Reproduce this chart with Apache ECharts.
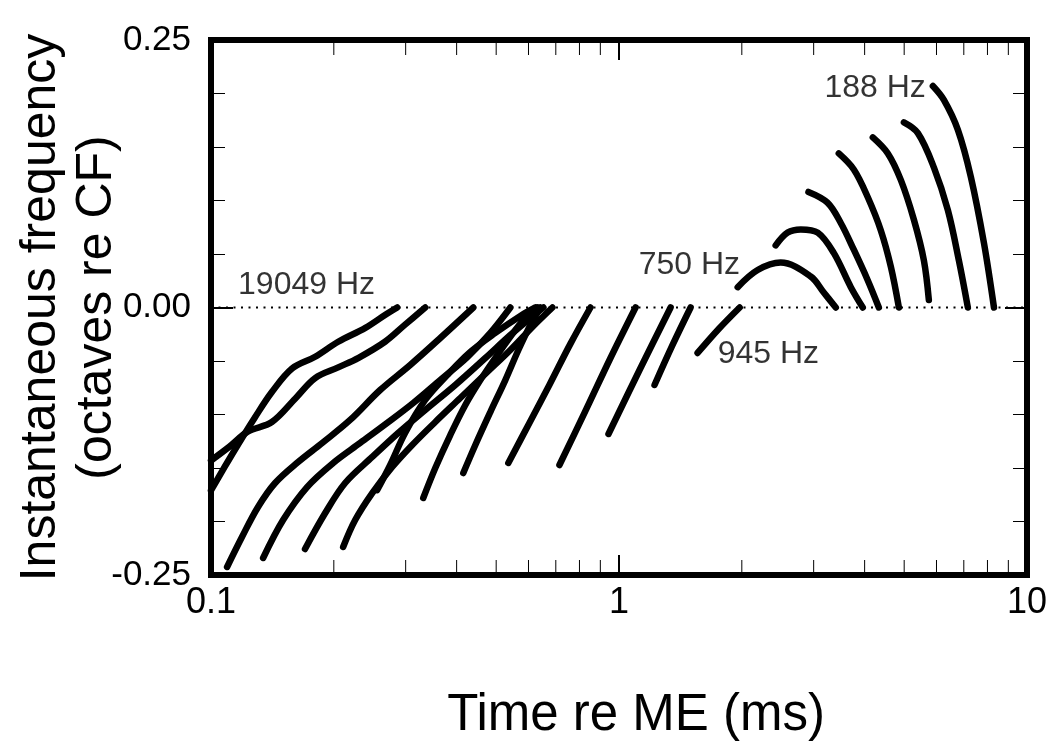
<!DOCTYPE html>
<html>
<head>
<meta charset="utf-8">
<script src="https://cdn.jsdelivr.net/npm/echarts@6/dist/echarts.min.js"></script>
<style>
  html, body { margin: 0; padding: 0; background: #fff; }
  #chart { width: 1050px; height: 749px; }
</style>
</head>
<body>
<div id="chart"></div>
<script>
// glide curves, [time ms, octaves re CF], from high CF (left) to low CF (right)
const c19049 = [[0.1,-0.171],[0.108,-0.149],[0.1165,-0.128],[0.128,-0.103],[0.141,-0.079],[0.158,-0.057],[0.180,-0.046],[0.205,-0.032],[0.239,-0.019],[0.267,-0.007],[0.286,0]]
const c02 = [[0.1,-0.143],[0.111,-0.130],[0.123,-0.116],[0.141,-0.107],[0.161,-0.085],[0.180,-0.066],[0.205,-0.056],[0.230,-0.047],[0.267,-0.032],[0.299,-0.016],[0.335,0]]
const c03 = [[0.1095,-0.2425],[0.1191,-0.2145],[0.1304,-0.1864],[0.1436,-0.164],[0.1635,-0.1444],[0.1873,-0.1266],[0.2193,-0.1051],[0.2598,-0.0771],[0.3078,-0.0537],[0.3648,-0.0285],[0.4395,0]]
const c04 = [[0.1342,-0.2341],[0.1502,-0.1986],[0.1720,-0.1678],[0.1993,-0.1453],[0.2321,-0.1266],[0.2704,-0.1079],[0.3131,-0.0893],[0.3648,-0.0678],[0.4249,-0.0463],[0.4838,-0.0238],[0.5417,0]]
const c05 = [[0.170,-0.2257],[0.1905,-0.1921],[0.2132,-0.164],[0.2484,-0.1397],[0.2876,-0.1173],[0.335,-0.0958],[0.397,-0.0724],[0.4704,-0.0472],[0.5417,-0.0257],[0.6066,-0.0098],[0.6528,0]]
const c06 = [[0.2108,-0.2238],[0.2256,-0.1986],[0.2484,-0.1734],[0.2780,-0.1491],[0.3113,-0.1285],[0.3546,-0.107],[0.4083,-0.0846],[0.4757,-0.0603],[0.5417,-0.0397],[0.6135,-0.0182],[0.6868,0]]
const c07 = [[0.2555,-0.1706],[0.2749,-0.1472],[0.299,-0.1173],[0.335,-0.0864],[0.3794,-0.0631],[0.4321,-0.0416],[0.4976,-0.0238],[0.5732,-0.0079],[0.6239,0]]
const c08 = [[0.3313,-0.178],[0.3546,-0.15],[0.3859,-0.1192],[0.4201,-0.0911],[0.4573,-0.0678],[0.5032,-0.0444],[0.5572,-0.021],[0.6066,-0.0042],[0.6310,0]]
const c09 = [[0.4153,-0.1547],[0.4445,-0.1285],[0.4838,-0.0977],[0.5265,-0.0678],[0.5668,-0.0397],[0.6066,-0.0164],[0.6418,0]]
const c10 = [[0.5355,-0.1453],[0.6031,-0.1079],[0.675,-0.0724],[0.760,-0.034],[0.8513,0]]
const c11 = [[0.7145,-0.1472],[0.8275,-0.0967],[0.9531,-0.0472],[1.098,0]]
const c12 = [[0.9424,-0.1182],[1.123,-0.0584],[1.338,0]]
const c13 = [[1.222,-0.0724],[1.353,-0.035],[1.498,0]]
const c945 = [[1.558,-0.0425],[1.755,-0.0201],[1.976,0]]
const c750 = [[1.954,0.019],[2.187,0.035],[2.490,0.042],[2.951,0.029],[3.176,0.014],[3.399,0]]
const c16 = [[2.421,0.058],[2.591,0.070],[2.789,0.073],[3.070,0.070],[3.360,0.051],[3.700,0.019],[3.958,0]]
const c17 = [[2.913,0.108],[3.243,0.098],[3.496,0.079],[3.763,0.054],[4.065,0.026],[4.334,0]]
const c18 = [[3.457,0.144],[3.763,0.129],[4.072,0.103],[4.383,0.072],[4.638,0.038],[4.853,0]]
const c19 = [[4.189,0.159],[4.560,0.144],[4.908,0.119],[5.282,0.082],[5.588,0.044],[5.747,0.007]]
const c20 = [[4.992,0.173],[5.402,0.163],[5.912,0.131],[6.398,0.091],[6.808,0.044],[7.162,0]]
const c188 = [[5.879,0.207],[6.255,0.194],[6.770,0.166],[7.285,0.122],[7.845,0.060],[8.299,0]]

const curves = [c19049, c02, c03, c04, c05, c06, c07, c08, c09, c10, c11, c12, c13, c945, c750, c16, c17, c18, c19, c20, c188]

// reference line at CF
const zeroLine = [[0.1, 0], [10, 0]]

// curve labels: text, anchor x, anchor y, side
const labelTexts = ['19049 Hz', '750 Hz', '945 Hz', '188 Hz']
const labelX = [0.1165, 1.98, 1.745, 5.65]
const labelY = [0.021, 0.040, -0.044, 0.205]
const labelSide = ['right', 'left', 'right', 'left']

// axes
const xTickLabels = [0.1, 1, 10]
const xMinorTicks = [0.2, 0.3, 0.4, 0.5, 0.6, 0.7, 0.8, 0.9, 2, 3, 4, 5, 6, 7, 8, 9]
const yTickLabels = ['-0.25', '0.00', '0.25']

const FONT = "'Liberation Sans', Arial, Helvetica, sans-serif"

const chart = echarts.init(document.getElementById('chart'))

const yMinor = (pos) => ({
  type: 'value', position: pos, min: -0.25, max: 0.25, interval: 0.05,
  axisLine: { show: false, onZero: false }, splitLine: { show: false },
  axisTick: { show: true, inside: true, length: 14, lineStyle: { color: '#000', width: 1 } },
  axisLabel: { show: false }
})
const yMajor = (pos, labels) => ({
  type: 'value', position: pos, min: -0.25, max: 0.25, interval: 0.25,
  axisLine: { show: false, onZero: false }, splitLine: { show: false },
  axisTick: { show: true, inside: true, length: 22, lineStyle: { color: '#000', width: 2 } },
  axisLabel: {
    show: labels, margin: 20, color: '#000', fontSize: 35, fontFamily: FONT,
    formatter: (v) => yTickLabels[Math.round((v + 0.25) / 0.25)]
  },
  name: labels ? 'Instantaneous frequency\n(octaves re CF)' : '',
  nameLocation: 'middle', nameGap: 86, nameRotate: 90, nameMoveOverlap: false,
  nameTextStyle: { color: '#000', fontSize: 50, fontFamily: FONT, lineHeight: 56 }
})

const xAxisDef = (pos, labels) => ({
  type: 'log', logBase: 10, min: 0.1, max: 10, position: pos,
  axisLine: { show: false, onZero: false }, splitLine: { show: false },
  axisTick: { show: true, inside: true, length: 20, lineStyle: { color: '#000', width: 2 } },
  axisLabel: {
    show: labels, margin: 10, color: '#000', fontSize: 36, fontFamily: FONT,
    formatter: (v) => String(xTickLabels.find(t => Math.abs(t - v) < 1e-6) ?? v)
  },
  name: labels ? 'Time re ME (ms)' : '',
  nameLocation: 'middle', nameGap: 115,
  nameTextStyle: { color: '#000', fontSize: 51, fontFamily: FONT, padding: [0, 0, 0, 34] }
})

const lineSeries = curves.map((d) => ({
  type: 'line', data: d, xAxisIndex: 0, yAxisIndex: 0,
  showSymbol: false, symbol: 'none', smooth: 0.35, silent: true,
  lineStyle: { color: '#000', width: 6.5, cap: 'round', join: 'round' },
  z: 3
}))

const minorTickSeries = (yEdge, dir) => ({
  type: 'custom', xAxisIndex: 0, yAxisIndex: 0, silent: true, clip: false,
  data: xMinorTicks.map(v => [v, yEdge]),
  renderItem: (params, api) => {
    const p = api.coord([api.value(0), api.value(1)])
    return {
      type: 'line',
      shape: { x1: p[0], y1: p[1], x2: p[0], y2: p[1] + dir * 15 },
      style: { stroke: '#000', lineWidth: 1 }
    }
  },
  z: 1
})

chart.setOption({
  animation: false,
  backgroundColor: '#fff',
  grid: {
    left: 211, right: 23, top: 40, bottom: 174,
    containLabel: false, outerBoundsMode: 'none',
    show: true, borderColor: '#000', borderWidth: 6, backgroundColor: 'transparent'
  },
  xAxis: [xAxisDef('bottom', true), xAxisDef('top', false)],
  yAxis: [yMajor('left', true), yMinor('left'), yMajor('right', false), yMinor('right')],
  series: [
    {
      type: 'line', data: zeroLine, showSymbol: false, symbol: 'none', silent: true,
      lineStyle: { color: '#000', width: 2, type: [2, 5.5], cap: 'butt' }, z: 2
    },
    ...lineSeries,
    minorTickSeries(-0.25, -1),
    minorTickSeries(0.25, 1),
    {
      type: 'scatter', symbolSize: 0, silent: true,
      data: labelTexts.map((t, i) => ({
        value: [labelX[i], labelY[i]],
        label: { show: true, position: labelSide[i], distance: 0, formatter: t,
          color: '#000', fontSize: 32, fontFamily: FONT }
      })),
      z: 5
    }
  ]
})
</script>
</body>
</html>
